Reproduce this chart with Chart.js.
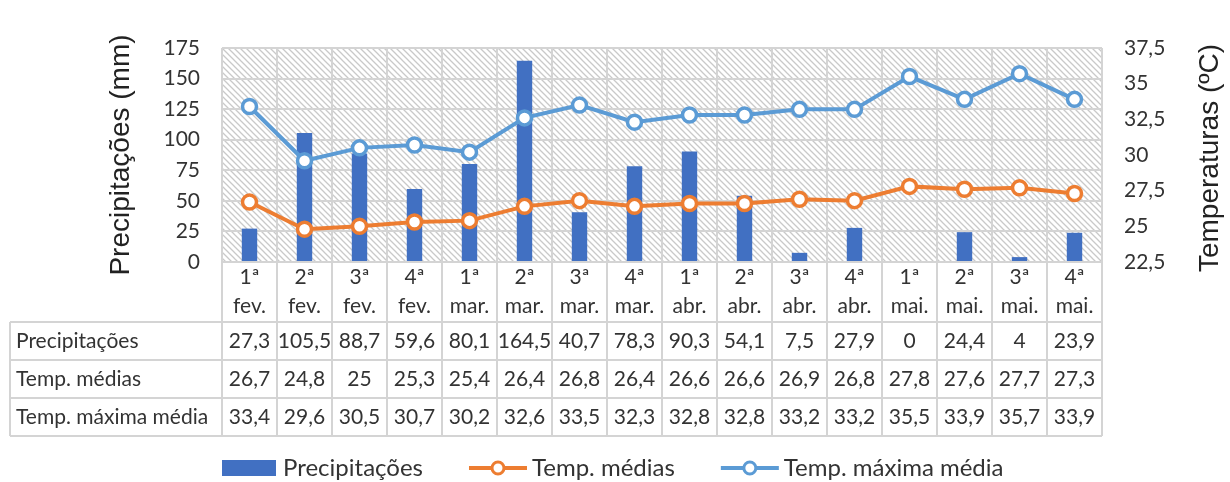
<!DOCTYPE html>
<html lang="pt">
<head>
    <meta charset="UTF-8">
    <title>Precipitações e temperaturas</title>
    <script src="https://cdn.jsdelivr.net/npm/chart.js"></script>
    <style>
        body { margin: 0; background: #fff; }
        #caixa { width: 1230px; height: 482px; }
    </style>
</head>
<body>
    <div id="caixa"><canvas id="miGrafica"></canvas></div>

    <script>
        const semanas = ['1ª','2ª','3ª','4ª','1ª','2ª','3ª','4ª','1ª','2ª','3ª','4ª','1ª','2ª','3ª','4ª'];
        const meses = ['fev.','fev.','fev.','fev.','mar.','mar.','mar.','mar.','abr.','abr.','abr.','abr.','mai.','mai.','mai.','mai.'];
        const precipitacoes = [27.3, 105.5, 88.7, 59.6, 80.1, 164.5, 40.7, 78.3, 90.3, 54.1, 7.5, 27.9, 0, 24.4, 4, 23.9];
        const tempMedias = [26.7, 24.8, 25, 25.3, 25.4, 26.4, 26.8, 26.4, 26.6, 26.6, 26.9, 26.8, 27.8, 27.6, 27.7, 27.3];
        const tempMaxima = [33.4, 29.6, 30.5, 30.7, 30.2, 32.6, 33.5, 32.3, 32.8, 32.8, 33.2, 33.2, 35.5, 33.9, 35.7, 33.9];
        const categorias = semanas.map((s, i) => [s, meses[i]]);

        const fonte = 'Lato, "Open Sans", sans-serif';
        const fonteTitulo = '"Liberation Sans", Arial, sans-serif';
        const corGrade = '#d4d4d4';
        const virgula = v => String(v).replace('.', ',');

        // fundo tracejado
        function padrao(ctx) {
            const c = document.createElement('canvas');
            c.width = 6; c.height = 6;
            const g = c.getContext('2d');
            g.fillStyle = '#fff';
            g.fillRect(0, 0, 6, 6);
            g.strokeStyle = '#c9c9c9';
            g.lineWidth = 1.3;
            g.beginPath();
            g.moveTo(-1, -1); g.lineTo(7, 7);
            g.moveTo(-1, 5); g.lineTo(1, 7);
            g.moveTo(5, -1); g.lineTo(7, 1);
            g.stroke();
            return ctx.createPattern(c, 'repeat');
        }

        const fundo = {
            id: 'fundo',
            beforeDraw(chart) {
                const { ctx, chartArea: a } = chart;
                ctx.save();
                ctx.fillStyle = padrao(ctx);
                ctx.fillRect(a.left, a.top, a.right - a.left, a.bottom - a.top);
                ctx.restore();
            }
        };

        // tabela de dados, titulo direito e legenda
        const tabela = {
            id: 'tabela',
            afterDraw(chart) {
                const { ctx, chartArea: a } = chart;
                const x = chart.scales.x;
                const n = categorias.length;
                const w = (a.right - a.left) / n;
                const topo = a.bottom;
                const linhas = [topo + 60, topo + 98, topo + 136, topo + 174];
                const esq = 10;
                const series = [
                    ['Precipitações', precipitacoes],
                    ['Temp. médias', tempMedias],
                    ['Temp. máxima média', tempMaxima]
                ];

                ctx.save();
                ctx.strokeStyle = corGrade;
                ctx.lineWidth = 2;
                ctx.beginPath();
                for (let i = 0; i <= n; i++) {
                    const px = a.left + i * w;
                    ctx.moveTo(px, topo);
                    ctx.lineTo(px, linhas[3]);
                }
                ctx.moveTo(esq, linhas[0]); ctx.lineTo(esq, linhas[3]);
                linhas.forEach(y => { ctx.moveTo(esq, y); ctx.lineTo(a.right, y); });
                ctx.stroke();

                ctx.fillStyle = '#333';
                ctx.font = '21px ' + fonte;
                ctx.textAlign = 'center';
                ctx.textBaseline = 'middle';
                categorias.forEach((c, i) => {
                    const cx = x.getPixelForValue(i);
                    ctx.fillText(c[0], cx, topo + 15);
                    ctx.fillText(c[1], cx, topo + 44);
                });
                series.forEach(([nome, vals], r) => {
                    const cy = (linhas[r] + linhas[r + 1]) / 2;
                    ctx.textAlign = 'left';
                    ctx.fillText(nome, esq + 6, cy);
                    ctx.textAlign = 'center';
                    vals.forEach((v, i) => ctx.fillText(virgula(v), x.getPixelForValue(i), cy));
                });

                // titulo do eixo direito (lido de baixo para cima)
                ctx.save();
                ctx.translate(1210, (a.top + a.bottom) / 2 + 3);
                ctx.rotate(-Math.PI / 2);
                ctx.font = '28px ' + fonteTitulo;
                ctx.fillStyle = '#222';
                ctx.textAlign = 'center';
                ctx.fillText('Temperaturas (ºC)', 0, 0);
                ctx.restore();

                // legenda
                const ds = chart.data.datasets;
                const ly = 468;
                ctx.font = '24px ' + fonte;
                ctx.textAlign = 'left';
                let lx = 222;
                ds.forEach((d, k) => {
                    if (k === 0) {
                        ctx.fillStyle = d.backgroundColor;
                        ctx.fillRect(lx, ly - 8, 54, 16);
                        lx += 61;
                    } else {
                        ctx.strokeStyle = d.borderColor;
                        ctx.lineWidth = 4;
                        ctx.beginPath();
                        ctx.moveTo(lx, ly); ctx.lineTo(lx + 58, ly);
                        ctx.stroke();
                        ctx.beginPath();
                        ctx.arc(lx + 29, ly, 6, 0, Math.PI * 2);
                        ctx.fillStyle = '#fff';
                        ctx.fill();
                        ctx.lineWidth = 3;
                        ctx.stroke();
                        lx += 63;
                    }
                    ctx.fillStyle = '#333';
                    ctx.fillText(d.label, lx, ly);
                    lx += ctx.measureText(d.label).width + 46;
                });
                ctx.restore();
            }
        };

        function crearGrafica() {
            const ctx = document.getElementById('miGrafica').getContext('2d');
            new Chart(ctx, {
                type: 'bar',
                data: {
                    labels: categorias,
                    datasets: [{
                        type: 'bar',
                        label: 'Precipitações',
                        data: precipitacoes,
                        backgroundColor: '#4170C2',
                        yAxisID: 'y',
                        barPercentage: 0.28,
                        categoryPercentage: 1,
                        order: 3
                    }, {
                        type: 'line',
                        label: 'Temp. médias',
                        data: tempMedias,
                        borderColor: '#ED7D31',
                        backgroundColor: '#fff',
                        borderWidth: 4,
                        pointRadius: 7,
                        pointBorderWidth: 3.5,
                        pointBackgroundColor: '#fff',
                        yAxisID: 'y1',
                        order: 2
                    }, {
                        type: 'line',
                        label: 'Temp. máxima média',
                        data: tempMaxima,
                        borderColor: '#5B9BD5',
                        backgroundColor: '#fff',
                        borderWidth: 4,
                        pointRadius: 7,
                        pointBorderWidth: 3.5,
                        pointBackgroundColor: '#fff',
                        yAxisID: 'y1',
                        order: 1
                    }]
                },
                options: {
                    responsive: true,
                    maintainAspectRatio: false,
                    animation: false,
                    layout: { padding: { top: 48, left: 0, right: 0, bottom: 0 } },
                    plugins: {
                        legend: { display: false },
                        tooltip: { enabled: false },
                        title: { display: false }
                    },
                    scales: {
                        x: {
                            offset: true,
                            grid: { color: corGrade, lineWidth: 2, offset: true, drawTicks: false },
                            border: { color: corGrade, width: 2 },
                            ticks: { display: false },
                            afterFit: s => { s.height = 220; }
                        },
                        y: {
                            position: 'left',
                            min: 0, max: 175,
                            ticks: { stepSize: 25, padding: 22, color: '#333', font: { family: fonte, size: 21 } },
                            grid: { color: corGrade, lineWidth: 2, drawTicks: false },
                            border: { display: false },
                            title: {
                                display: true, text: 'Precipitações (mm)', color: '#222',
                                font: { family: fonteTitulo, size: 28 },
                                padding: { top: 104, bottom: 0 }
                            },
                            afterFit: s => { s.width = 222; }
                        },
                        y1: {
                            position: 'right',
                            min: 22.5, max: 37.5,
                            ticks: { stepSize: 2.5, padding: 22, color: '#333', font: { family: fonte, size: 21 },
                                callback: v => virgula(v) },
                            grid: { display: false, drawTicks: false },
                            border: { display: false },
                            afterFit: s => { s.width = 128; }
                        }
                    }
                },
                plugins: [fundo, tabela]
            });
        }

        crearGrafica();
    </script>
</body>
</html>
